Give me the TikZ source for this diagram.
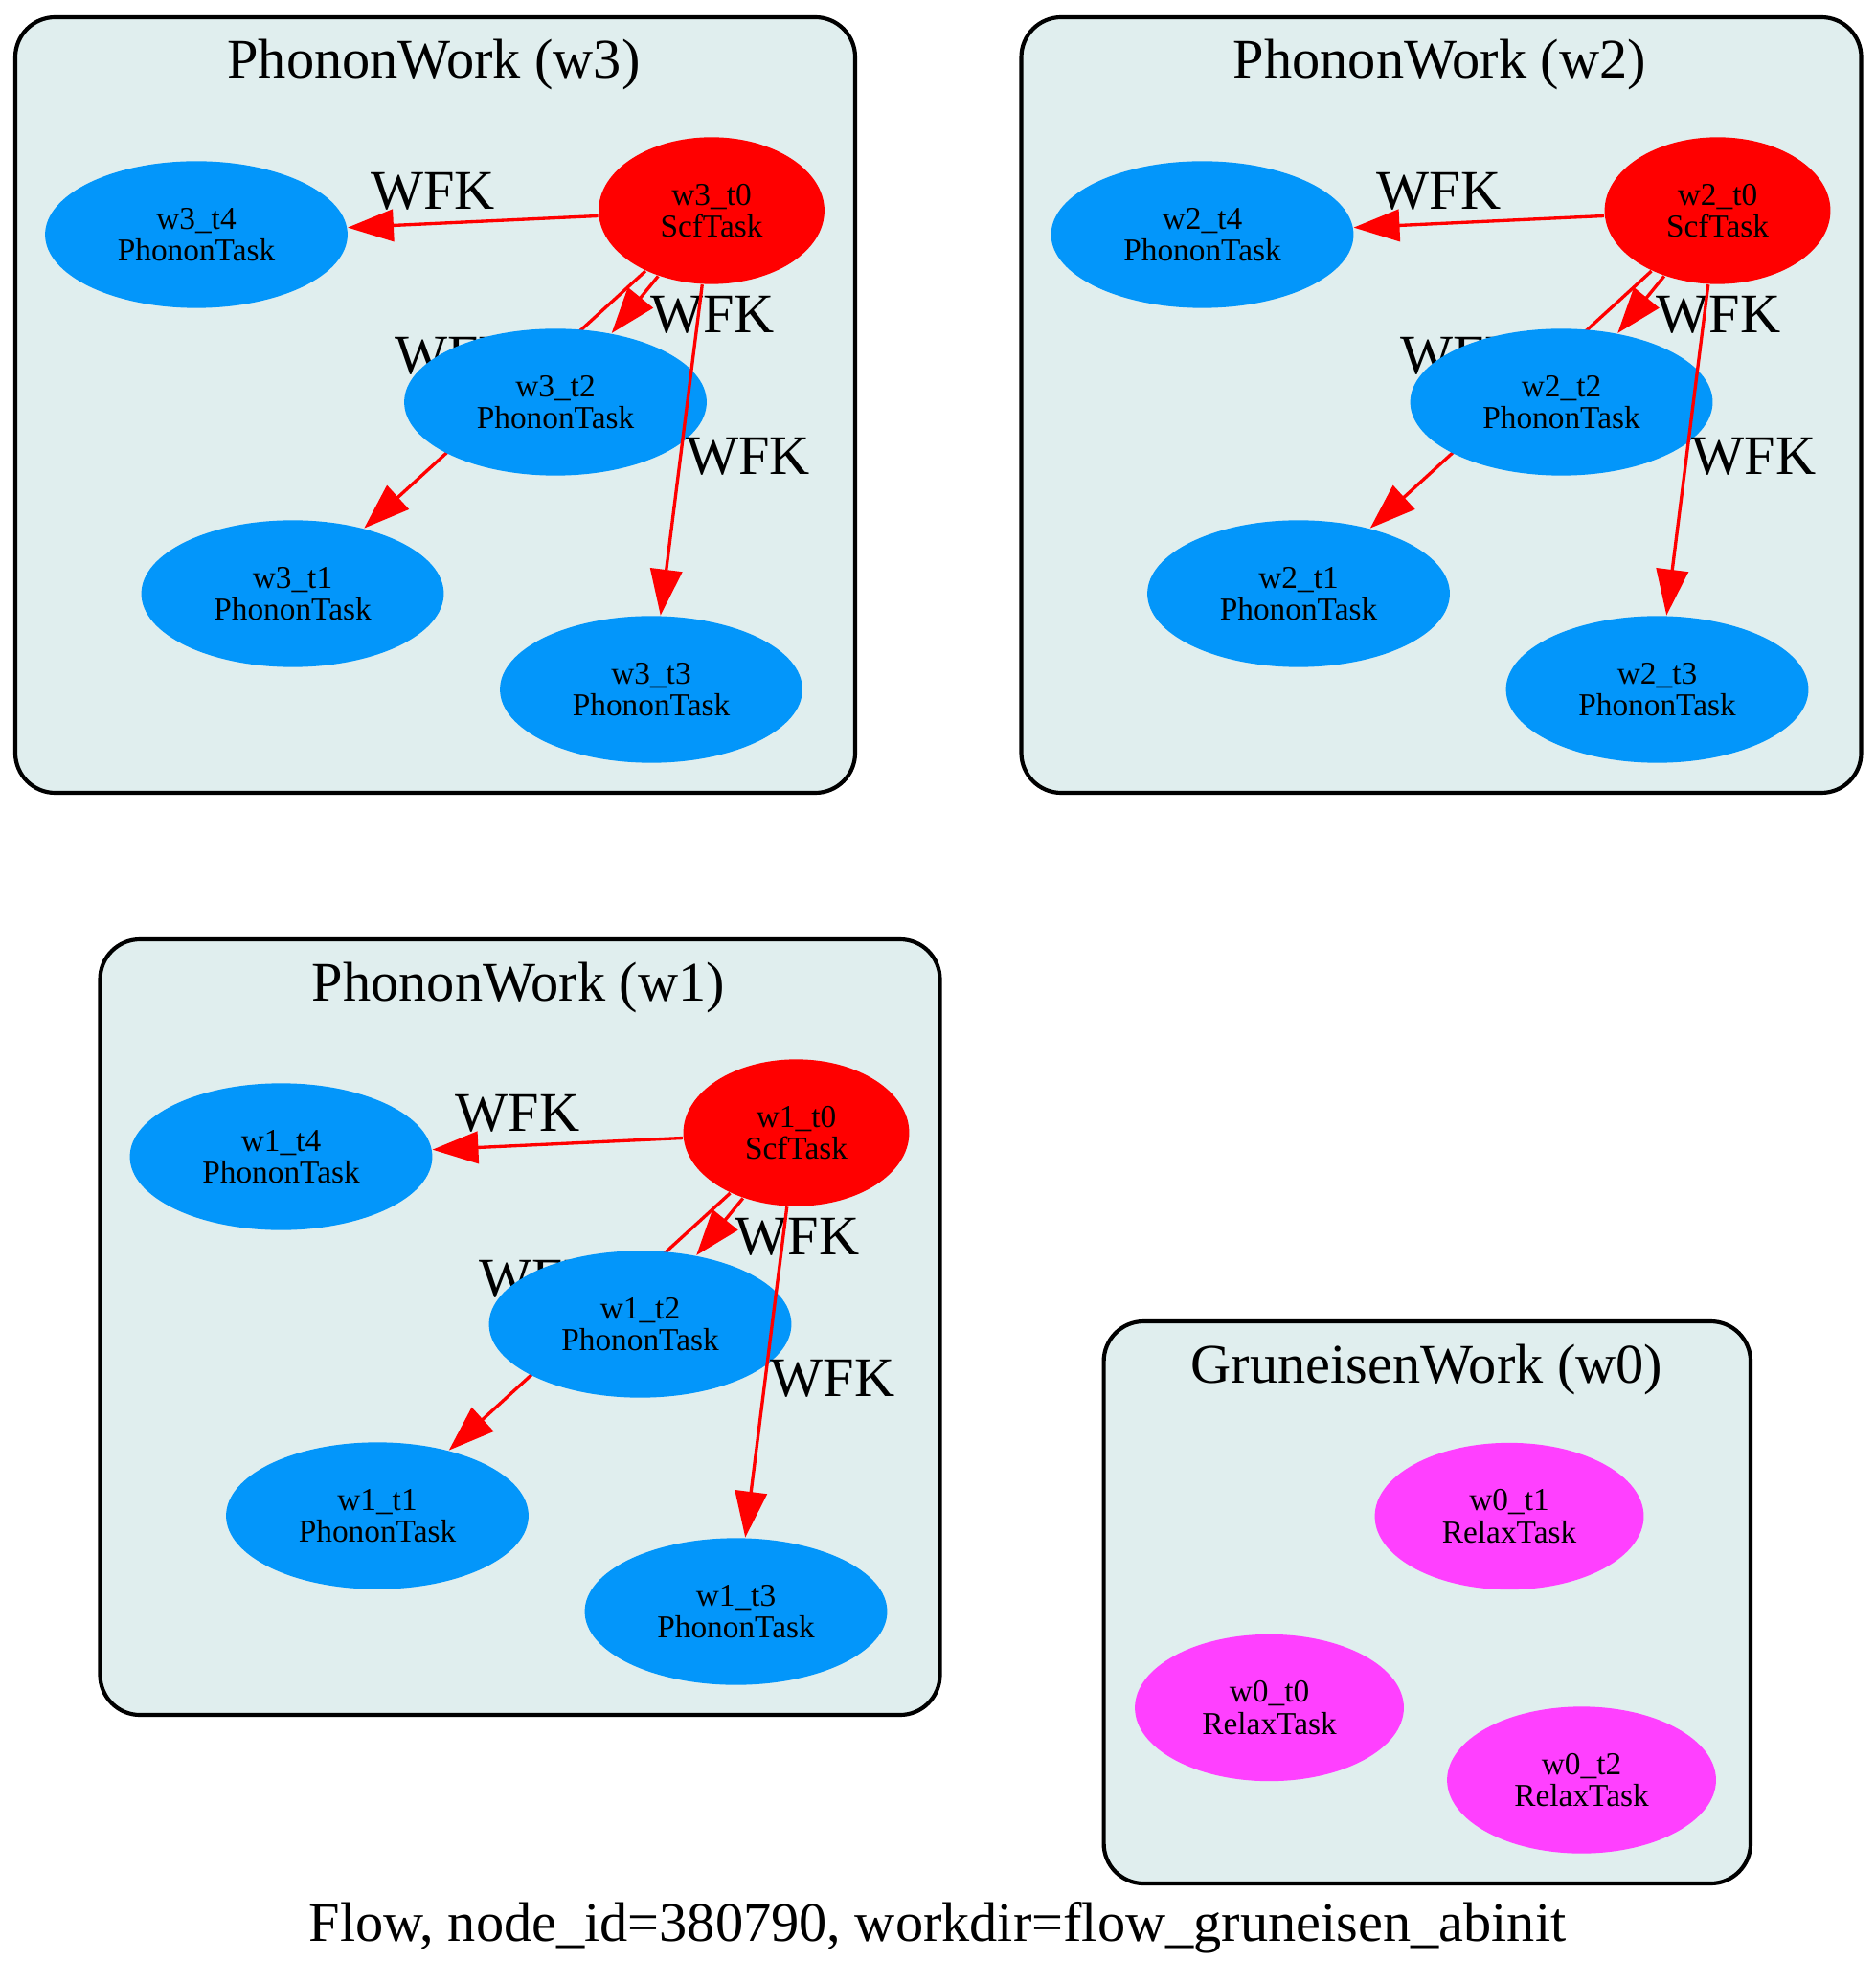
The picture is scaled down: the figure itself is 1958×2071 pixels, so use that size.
\documentclass[tikz,border=0pt]{standalone}
\usepackage{fontspec}
\setmainfont{Liberation Serif}
\usetikzlibrary{arrows.meta,shapes.geometric}
\definecolor{clusterfill}{RGB}{224,238,238}
\definecolor{phononblue}{RGB}{3,150,250}
\definecolor{relaxpink}{RGB}{255,64,255}
\definecolor{scfred}{RGB}{255,0,0}
\pgfdeclarelayer{background}
\pgfdeclarelayer{under}
\pgfsetlayers{background,under,main}
\tikzset{
  task/.style={ellipse, inner sep=0pt, minimum height=36.8pt, align=center,
    font=\fontsize{8}{8}\selectfont},
  phonon/.style={task, fill=phononblue, minimum width=75.8pt},
  scf/.style={task, fill=scfred, minimum width=56.6pt},
  relax/.style={task, fill=relaxpink, minimum width=67.4pt},
  cluster/.style={draw=black, line width=1pt, fill=clusterfill, rounded corners=10pt},
  title/.style={font=\fontsize{14}{14}\selectfont, anchor=base},
  wfk/.style={font=\fontsize{14}{14}\selectfont, anchor=base, inner sep=0pt},
  dep/.style={draw=scfred, line width=0.8pt, -{Triangle[length=11.5pt,width=8pt]}}
}
\begin{document}
\begin{tikzpicture}[x=0.24pt, y=-0.24pt]
  \useasboundingbox (0,0) rectangle (1958,2071);
  % the three phonon works
  \foreach \w/\dx/\dy in {3/0/0, 2/1050.5/0, 1/88.5/963}{
    \begin{scope}[shift={(\dx,\dy)}]
      \begin{pgfonlayer}{background}
        \draw[cluster] (16,18) rectangle (893,828);
      \end{pgfonlayer}
      \node[title] (w\w-title) at (453,82) {PhononWork (w\w)};
      \node[scf] (w\w-t0) at (743,220) {w\w\_t0\\ScfTask};
      \node[phonon] (w\w-t4) at (205,245) {w\w\_t4\\PhononTask};
      \node[phonon] (w\w-t2) at (580,420) {w\w\_t2\\PhononTask};
      \node[phonon] (w\w-t1) at (305.5,620) {w\w\_t1\\PhononTask};
      \node[phonon] (w\w-t3) at (680,720) {w\w\_t3\\PhononTask};
      \begin{pgfonlayer}{under}
        \draw[dep] (w\w-t0) -- (w\w-t1);
        \node[wfk] (w\w-l1) at (477,391) {WFK};
      \end{pgfonlayer}
      \node[wfk] (w\w-l4) at (452,218.5) {WFK};
      \node[wfk] (w\w-l2) at (744,347.5) {WFK};
      \node[wfk] (w\w-l3) at (781,495.5) {WFK};
      \draw[dep] (w\w-t0) -- (w\w-t4);
      \draw[dep] (w\w-t0) -- (w\w-t2);
      \draw[dep] (w\w-t0) -- (w\w-t3);
    \end{scope}
  }
  % gruneisen work
  \begin{pgfonlayer}{background}
    \draw[cluster] (1152.6,1380) rectangle (1828,1967);
  \end{pgfonlayer}
  \node[title] (w0-title) at (1490,1444) {GruneisenWork (w0)};
  \node[relax] (w0-t1) at (1576,1583.5) {w0\_t1\\RelaxTask};
  \node[relax] (w0-t0) at (1325.5,1783.5) {w0\_t0\\RelaxTask};
  \node[relax] (w0-t2) at (1651.5,1859) {w0\_t2\\RelaxTask};
  \node[title] (caption) at (979,2027) {Flow, node\_id=380790, workdir=flow\_gruneisen\_abinit};
\end{tikzpicture}
\end{document}
